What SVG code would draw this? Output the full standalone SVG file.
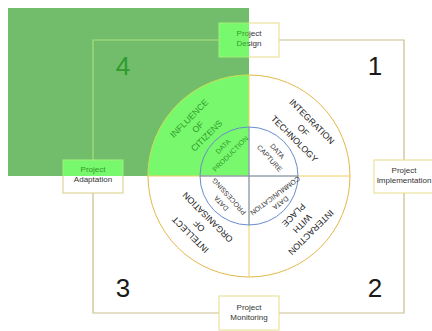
<svg xmlns="http://www.w3.org/2000/svg" width="432" height="331" viewBox="0 0 432 331">
  <defs>
    <style>
      .frame { fill: none; stroke: #c8be8c; stroke-width: 1.2; }
      .frame-hl { fill: none; stroke: #86e06a; stroke-width: 1.2; }
      .box { stroke-width: 1; }
      .lbl { font-family: "Liberation Sans", Arial, sans-serif; font-size: 8px; text-anchor: middle; fill: #333; }
      .num { font-family: "Liberation Sans", Arial, sans-serif; font-size: 26px; text-anchor: middle; fill: #1a1a1a; }
      .ring { font-family: "Liberation Sans", Arial, sans-serif; font-size: 8.8px; text-anchor: middle; fill: #222; }
      .core { font-family: "Liberation Sans", Arial, sans-serif; font-size: 7px; text-anchor: middle; fill: #333; }
      .g { fill: #2f9a2c; }
      .cross-outer { stroke: #f0d060; stroke-width: 1; fill: none; }
      .cross-inner { stroke: #6a8ccc; stroke-width: 1; fill: none; }
    </style>
    <!-- splits the highlighted area (left of x=249 / above y=176) from the plain area -->
    <linearGradient id="fillX" gradientUnits="userSpaceOnUse" x1="0" y1="0" x2="432" y2="0">
      <stop offset="0.5764" stop-color="#78f86c"/>
      <stop offset="0.5764" stop-color="#ffffff"/>
    </linearGradient>
    <linearGradient id="strokeX" gradientUnits="userSpaceOnUse" x1="0" y1="0" x2="432" y2="0">
      <stop offset="0.5764" stop-color="#9ef27a"/>
      <stop offset="0.5764" stop-color="#e8dc8a"/>
    </linearGradient>
    <linearGradient id="textX" gradientUnits="userSpaceOnUse" x1="0" y1="0" x2="432" y2="0">
      <stop offset="0.5764" stop-color="#2f9a2c"/>
      <stop offset="0.5764" stop-color="#333333"/>
    </linearGradient>
    <linearGradient id="fillY" gradientUnits="userSpaceOnUse" x1="0" y1="0" x2="0" y2="331">
      <stop offset="0.5317" stop-color="#78f86c"/>
      <stop offset="0.5317" stop-color="#ffffff"/>
    </linearGradient>
    <linearGradient id="strokeY" gradientUnits="userSpaceOnUse" x1="0" y1="0" x2="0" y2="331">
      <stop offset="0.5317" stop-color="#9ef27a"/>
      <stop offset="0.5317" stop-color="#d8cc84"/>
    </linearGradient>
    <clipPath id="hl">
      <rect x="8" y="8" width="241" height="168"/>
    </clipPath>
  </defs>

  <!-- highlighted phase 4 area -->
  <rect id="highlight" x="8" y="8" width="241" height="168" fill="#72bd6c"/>

  <!-- cycle connectors between the project stages -->
  <g id="connectors">
    <path class="frame" d="M93,40 H404 V313 H93 Z"/>
    <path class="frame-hl" d="M93,40 H404 V313 H93 Z" clip-path="url(#hl)"/>
  </g>

  <!-- central wheel -->
  <g id="wheel">
    <circle cx="249" cy="176" r="101" fill="#ffffff" stroke="#e2b848" stroke-width="1"/>
    <path d="M249,176 V75 A101,101 0 0 0 148,176 Z" fill="#78f86c" stroke="none"/>
    <path d="M249,75 A101,101 0 0 0 148,176" fill="none" stroke="#b8e45a" stroke-width="1"/>
    <path class="cross-outer" d="M148,176 H350 M249,75 V277"/>
    <circle cx="249" cy="176" r="49" fill="none" stroke="#6a8ccc" stroke-width="1"/>
    <path class="cross-inner" d="M200,176 H298 M249,127 V225"/>
  </g>

  <g id="quadrant-citizens">
    <text class="ring g" transform="translate(197.8,127) rotate(-45)"><tspan x="0" y="-9.1">INFLUENCE</tspan><tspan x="0" y="3.2">OF</tspan><tspan x="0" y="15.5">CITIZENS</tspan></text>
    <text class="core g" transform="translate(226.6,150) rotate(-45)"><tspan x="0" y="-2.6">DATA</tspan><tspan x="0" y="7.8">PRODUCTION</tspan></text>
  </g>
  <g id="quadrant-technology">
    <text class="ring" transform="translate(303.3,130.1) rotate(45)"><tspan x="0" y="-9.1">INTEGRATION</tspan><tspan x="0" y="3.2">OF</tspan><tspan x="0" y="15.5">TECHNOLOGY</tspan></text>
    <text class="core" transform="translate(273.6,154.6) rotate(48)"><tspan x="0" y="-2.6">DATA</tspan><tspan x="0" y="7.8">CAPTURE</tspan></text>
  </g>
  <g id="quadrant-place">
    <text class="ring" transform="translate(302.4,223.8) rotate(135)"><tspan x="0" y="-9.1">INTERACTION</tspan><tspan x="0" y="3.2">WITH</tspan><tspan x="0" y="15.5">PLACE</tspan></text>
    <text class="core" transform="translate(277.9,199.4) rotate(143)"><tspan x="0" y="-2">DATA</tspan><tspan x="0" y="7">COMMUNICATION</tspan></text>
  </g>
  <g id="quadrant-organisation">
    <text class="ring" transform="translate(198.9,226.1) rotate(-135)"><tspan x="0" y="-9.1">INTELLECT</tspan><tspan x="0" y="3.2">OF</tspan><tspan x="0" y="15.5">ORGANISATION</tspan></text>
    <text class="core" transform="translate(225,200) rotate(-132)"><tspan x="0" y="-2.6">DATA</tspan><tspan x="0" y="7.8">PROCESSING</tspan></text>
  </g>

  <!-- phase numbers -->
  <g id="phases">
    <text class="num g" x="123" y="74.5">4</text>
    <text class="num" x="375" y="75">1</text>
    <text class="num" x="123" y="296.5">3</text>
    <text class="num" x="375" y="296.5">2</text>
  </g>

  <!-- project stages -->
  <g id="node-design">
    <rect class="box" x="219" y="23" width="60" height="34" fill="url(#fillX)" stroke="url(#strokeX)"/>
    <text class="lbl" fill="url(#textX)" style="fill:url(#textX)"><tspan x="249" y="36">Project</tspan><tspan x="249" y="46">Design</tspan></text>
  </g>
  <g id="node-implementation">
    <rect class="box" x="374" y="160" width="62" height="33" fill="#ffffff" stroke="#e8dc8a"/>
    <text class="lbl"><tspan x="404" y="172.5">Project</tspan><tspan x="404" y="182.5">Implementation</tspan></text>
  </g>
  <g id="node-monitoring">
    <rect class="box" x="219" y="296" width="60" height="34" fill="#ffffff" stroke="#e8dc8a"/>
    <text class="lbl"><tspan x="249" y="309.5">Project</tspan><tspan x="249" y="319.5">Monitoring</tspan></text>
  </g>
  <g id="node-adaptation">
    <rect class="box" x="63" y="160" width="60" height="33" fill="url(#fillY)" stroke="url(#strokeY)"/>
    <text class="lbl"><tspan class="g" x="93" y="172">Project</tspan><tspan x="93" y="182">Adaptation</tspan></text>
  </g>
</svg>
